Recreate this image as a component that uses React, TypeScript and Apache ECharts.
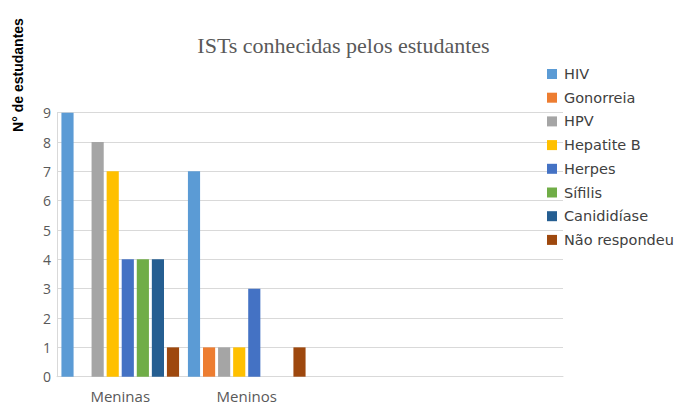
import React, { useEffect, useRef } from "react";
import * as echarts from "echarts";

const categories = ["Meninas", "Meninos", "", ""];
const seriesNames = ["HIV", "Gonorreia", "HPV", "Hepatite B", "Herpes", "Sífilis", "Canididíase", "Não respondeu"];
const hiv = [9, 7, null, null];
const gonorreia = [0, 1, null, null];
const hpv = [8, 1, null, null];
const hepatiteB = [7, 1, null, null];
const herpes = [4, 3, null, null];
const sifilis = [4, 0, null, null];
const canididiase = [4, 0, null, null];
const naoRespondeu = [1, 1, null, null];
const seriesValues = [hiv, gonorreia, hpv, hepatiteB, herpes, sifilis, canididiase, naoRespondeu];
const colors = ["#5B9BD5", "#ED7D31", "#A5A5A5", "#FFC000", "#4472C4", "#70AD47", "#255E91", "#9E480E"];
const yTicks = [0, 1, 2, 3, 4, 5, 6, 7, 8, 9];

export default function App() {
  const ref = useRef<HTMLDivElement>(null);
  useEffect(() => {
    if (!ref.current) return;
    const chart = echarts.init(ref.current, null, { renderer: "svg" });
    chart.setOption({
      animation: false,
      backgroundColor: "#ffffff",
      color: colors,
      graphic: [
        {
          type: "text",
          x: 343.5,
          y: 45,
          style: {
            text: "ISTs conhecidas pelos estudantes",
            font: "22px 'Liberation Serif'",
            fill: "#595959",
            align: "center",
            verticalAlign: "middle",
          },
        },
        {
          type: "text",
          x: 18,
          y: 75,
          rotation: Math.PI / 2,
          style: {
            text: "N° de estudantes",
            font: "bold 14px 'Liberation Sans'",
            fill: "#000000",
            align: "center",
            verticalAlign: "middle",
          },
        },
      ],
      legend: {
        orient: "vertical",
        left: 547,
        top: 66.5,
        padding: 0,
        itemWidth: 10,
        itemHeight: 10,
        itemGap: 8.7,
        icon: "rect",
        data: seriesNames,
        textStyle: {
          fontFamily: "'DejaVu Sans'",
          fontSize: 14.5,
          lineHeight: 14,
          color: "#404040",
          padding: [0, 0, 0, 2],
        },
      },
      grid: { left: 57, right: 115, top: 112.7, bottom: 29.3, containLabel: false },
      xAxis: {
        type: "category",
        data: categories,
        axisLine: { show: true, lineStyle: { color: "#d9d9d9", width: 1 } },
        axisTick: { show: false },
        axisLabel: { color: "#595959", fontFamily: "'Open Sans'", fontSize: 15, lineHeight: 15, margin: 12 },
        splitLine: { show: false },
      },
      yAxis: {
        type: "value",
        min: 0,
        max: 9,
        interval: 1,
        axisLine: { show: true, lineStyle: { color: "#d9d9d9", width: 1 } },
        axisTick: { show: false },
        axisLabel: {
          color: "#595959",
          fontFamily: "'Open Sans'",
          fontSize: 14,
          margin: 6,
          formatter: (v: number) => (yTicks.includes(v) ? String(v) : ""),
        },
        splitLine: { show: true, lineStyle: { color: "#d9d9d9", width: 1 } },
      },
      series: seriesNames.map((name, i) => ({
        name,
        type: "bar",
        data: seriesValues[i],
        barGap: "24%",
        barCategoryGap: "7%",
        itemStyle: { color: colors[i] },
      })),
    });
    return () => chart.dispose();
  }, []);
  return (
    <div
      ref={ref}
      style={{ position: "absolute", left: 0, top: 0, width: 678, height: 406 }}
    />
  );
}
